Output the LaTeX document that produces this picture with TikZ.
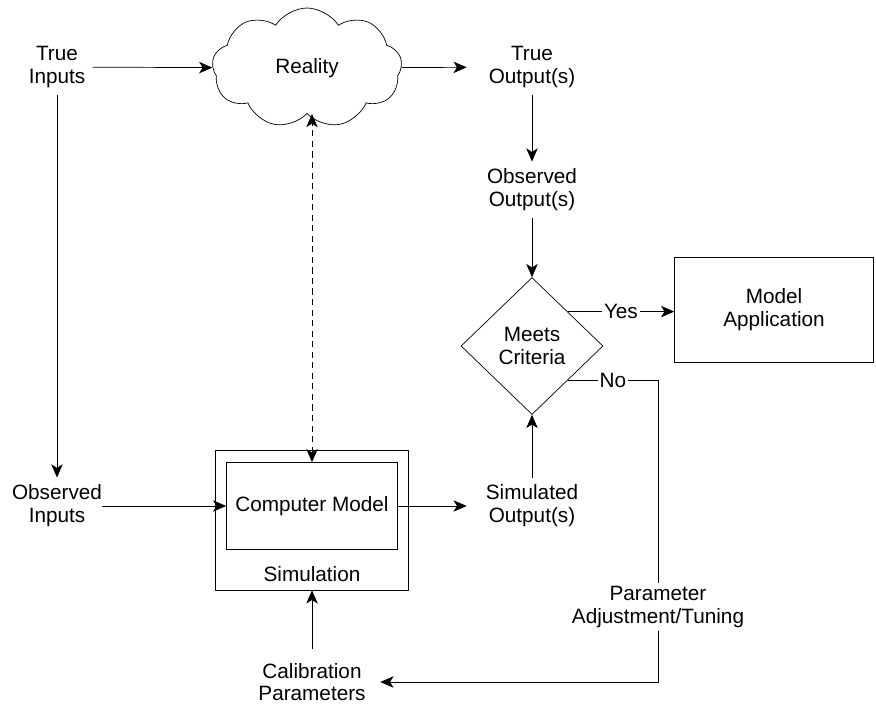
\documentclass[tikz,border=0pt]{standalone}
\usepackage{fontspec}
\setmainfont{Liberation Sans}
\usetikzlibrary{shapes.geometric,shapes.symbols,arrows.meta,calc}
\pgfdeclarelayer{edgelayer}
\pgfdeclarelayer{nodelayer}
\pgfsetlayers{edgelayer,nodelayer,main}
\tikzset{font=\fontsize{11.8}{13}\selectfont}
\tikzstyle{none}=[inner sep=0pt]
\tikzstyle{txt}=[align=center,inner sep=4pt]
\tikzstyle{outtxt}=[txt,minimum width=2.6cm]
\tikzstyle{box}=[draw,rectangle,inner sep=0pt]
\tikzstyle{cloudy}=[draw,cloud,cloud puffs=9,cloud puff arc=115,inner sep=0pt,minimum width=3.8cm,minimum height=2.4cm]
\tikzstyle{decision}=[draw,diamond,align=center,inner sep=0pt,minimum width=2.84cm,minimum height=2.74cm]
\tikzstyle{flow}=[-{Stealth[length=7.5pt,width=6.5pt,inset=2pt]}]
\tikzstyle{tag}=[fill=white,inner sep=1pt]

\begin{document}
\begin{tikzpicture}[x=0.02cm,y=-0.02cm,line width=1.2pt]
	\useasboundingbox (0,0) rectangle (876,704);
	\begin{pgfonlayer}{nodelayer}
		\node [style=txt] (tin) at (57, 67) {True\\Inputs};
		\node [style=cloudy] (real) at (307, 68) {Reality};
		\node [style=outtxt] (tout) at (532, 67) {True\\Output(s)};
		\node [style=outtxt] (oout) at (532, 190) {Observed\\Output(s)};
		\node [style=decision] (dq) at (532, 346) {Meets\\Criteria};
		\node [style=box, minimum width=3.98cm, minimum height=2.1cm, align=center] (app) at (774, 310) {Model\\Application};
		\node [style=box, minimum width=3.86cm, minimum height=2.8cm] (sim) at (312, 520) {};
		\node [style=box, minimum width=3.42cm, minimum height=1.74cm] (cm) at (312, 506) {Computer Model};
		\node [style=none] (simlbl) at (312, 574) {Simulation};
		\node [style=txt, inner xsep=0pt] (obin) at (57, 506) {Observed\\Inputs};
		\node [style=outtxt] (sout) at (532, 506) {Simulated\\Output(s)};
		\node [style=txt, minimum width=2.72cm, inner ysep=8pt] (calib) at (312, 682) {Calibration\\Parameters};
		\node [style=txt, inner ysep=1.5pt] (tune) at (658, 607) {Parameter\\Adjustment/Tuning};
		\coordinate (yes) at ($(dq.north)!0.5!(dq.east)$);
		\coordinate (no) at ($(dq.south)!0.5!(dq.east)$);
	\end{pgfonlayer}
	\begin{pgfonlayer}{edgelayer}
		\draw [style=flow] (tin) to (real);
		\draw [style=flow] (real) to (tout);
		\draw [style=flow] (tout) to (oout);
		\draw [style=flow] (oout) to (dq);
		\draw [style=flow] (tin) to (obin);
		\draw [style=flow] (obin) to (cm);
		\draw [style=flow] (cm) to (sout);
		\draw [style=flow] (sout) to (dq);
		\draw [style=flow] (calib) to (sim);
		\draw [{Stealth[length=7.5pt,width=6.5pt,inset=2pt]}-{Stealth[length=7.5pt,width=6.5pt,inset=2pt]}, dash pattern=on 3.5pt off 2.5pt] (cm.north) to (cm.north |- real.south);
		\draw [style=flow] (yes) to node [style=tag] {Yes} (yes -| app.west);
		\draw (no) to node [style=tag] {No} (no -| tune.north) to (tune.north);
		\draw [style=flow] (tune.south) |- (calib.east);
	\end{pgfonlayer}
\end{tikzpicture}
\end{document}
